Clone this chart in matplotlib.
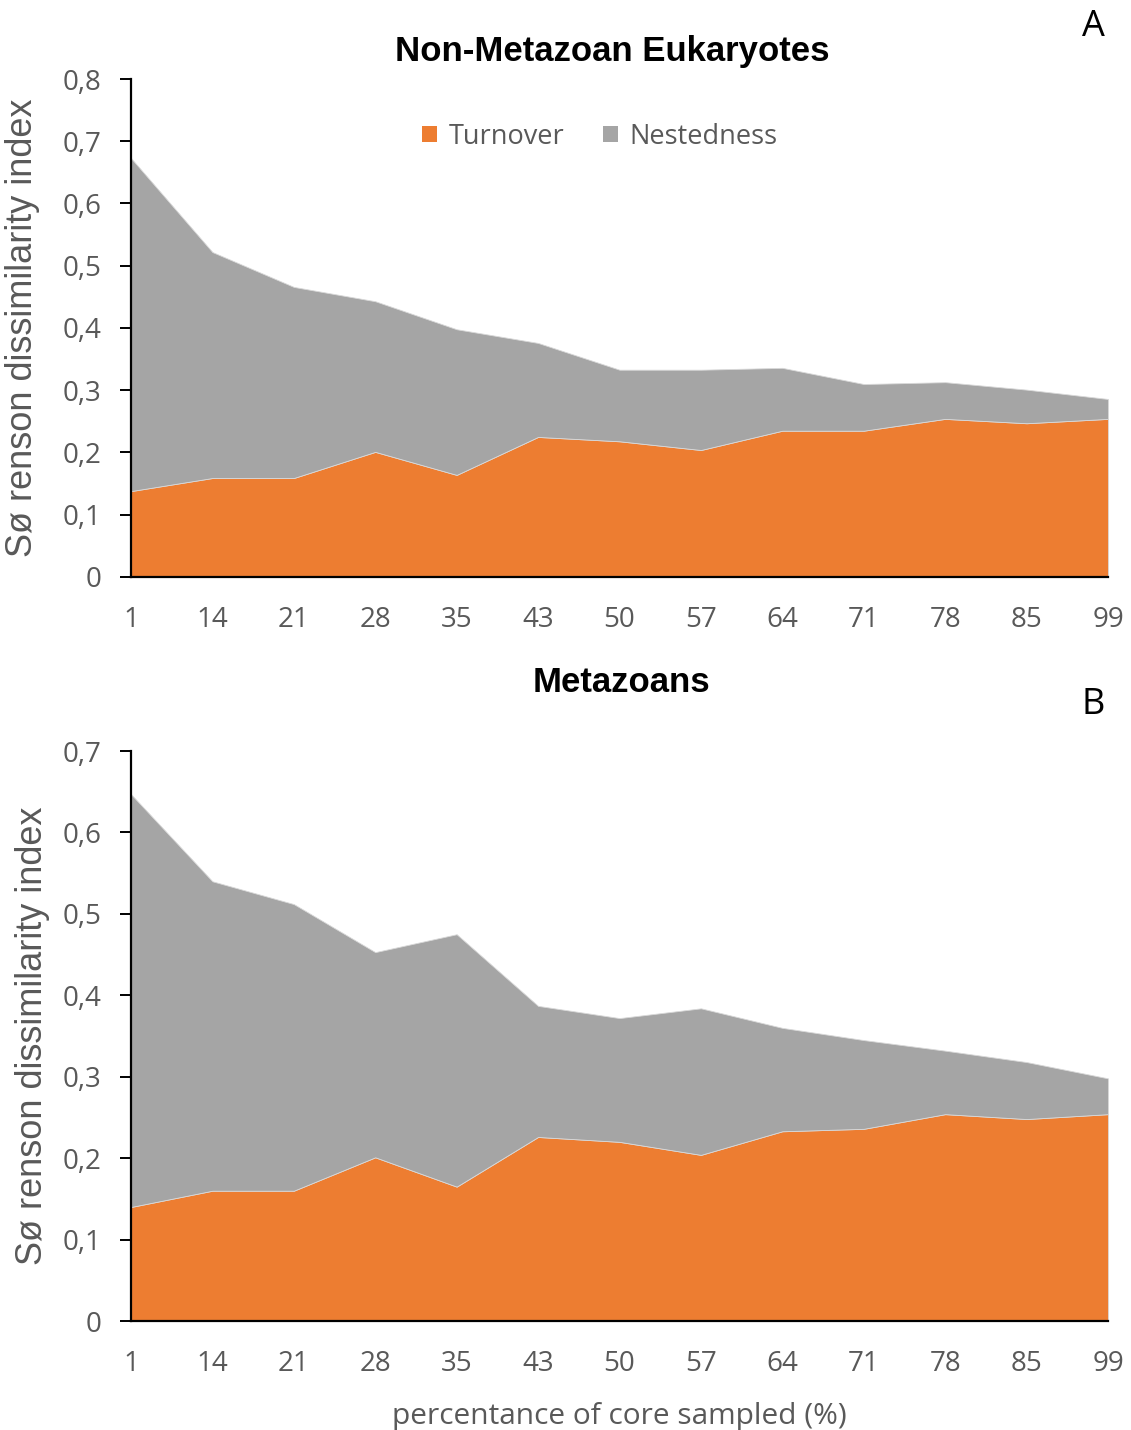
import numpy as np
import matplotlib
matplotlib.use("Agg")
import matplotlib.pyplot as plt
from matplotlib.patches import Patch
from matplotlib.ticker import FuncFormatter, MultipleLocator

# Sampling depth categories (% of core sampled)
categories = ["1", "14", "21", "28", "35", "43", "50", "57", "64", "71", "78", "85", "99"]

# Panel A: non-metazoan eukaryotes
turnover_a = [0.138, 0.159, 0.159, 0.201, 0.164, 0.225, 0.218, 0.204, 0.235, 0.235, 0.254, 0.247, 0.254]
total_a = [0.673, 0.522, 0.466, 0.443, 0.398, 0.376, 0.333, 0.333, 0.336, 0.310, 0.313, 0.301, 0.286]
nestedness_a = [t - u for t, u in zip(total_a, turnover_a)]

# Panel B: metazoans
turnover_b = [0.140, 0.160, 0.160, 0.201, 0.165, 0.226, 0.220, 0.204, 0.233, 0.236, 0.254, 0.248, 0.254]
total_b = [0.647, 0.540, 0.512, 0.453, 0.475, 0.387, 0.372, 0.384, 0.360, 0.345, 0.332, 0.318, 0.298]
nestedness_b = [t - u for t, u in zip(total_b, turnover_b)]

ORANGE = "#ED7D31"
GREY = "#A5A5A5"
TXT = "#595959"
TICKFONT = "Open Sans"
LABELFONT = "Liberation Sans"

W, H = 1131, 1430
fig = plt.figure(figsize=(W / 100, H / 100), dpi=100)


def px_axes(left, top, right, bottom):
    return fig.add_axes([left / W, 1 - bottom / H, (right - left) / W, (bottom - top) / H])


def comma_fmt(v, pos):
    if abs(v) < 1e-9:
        return "0"
    return f"{v:.1f}".replace(".", ",")


def draw_panel(ax, turnover, nestedness, ymax):
    x = np.arange(len(categories))
    ax.stackplot(x, turnover, nestedness, colors=[ORANGE, GREY],
                 edgecolor="#D9D9D9", linewidth=0.6)
    ax.set_xlim(0, len(categories) - 1)
    ax.set_ylim(0, ymax)
    ax.set_xticks(x)
    ax.set_xticklabels(categories)
    ax.yaxis.set_major_locator(MultipleLocator(0.1))
    ax.yaxis.set_major_formatter(FuncFormatter(comma_fmt))
    for s in ("top", "right"):
        ax.spines[s].set_visible(False)
    for s in ("left", "bottom"):
        ax.spines[s].set_color("black")
        ax.spines[s].set_linewidth(1.6)
        ax.spines[s].set_zorder(5)
    ax.tick_params(axis="x", length=0, pad=21, labelsize=20, labelcolor=TXT)
    ax.tick_params(axis="y", length=8, width=1.4, pad=13, labelsize=20,
                   labelcolor=TXT, color="black", direction="out")
    for lab in ax.get_xticklabels() + ax.get_yticklabels():
        lab.set_fontfamily(TICKFONT)
    ax.set_ylabel("Sø renson dissimilarity index", fontsize=26, color=TXT,
                  fontfamily=LABELFONT)


# Top panel
ax1 = px_axes(131, 79, 1108, 577)
draw_panel(ax1, turnover_a, nestedness_a, 0.8)
ax1.yaxis.set_label_coords(-91 / 977, 0.5)
handles = [Patch(facecolor=ORANGE, edgecolor="none", label="Turnover"),
           Patch(facecolor=GREY, edgecolor="none", label="Nestedness")]
leg = ax1.legend(handles=handles, loc="center", bbox_to_anchor=(0.48, 0.884), ncol=2,
                 frameon=False, handlelength=0.55, handleheight=0.55,
                 handletextpad=0.45, columnspacing=1.4,
                 prop={"family": TICKFONT, "size": 19.5})
for t in leg.get_texts():
    t.set_color(TXT)

fig.text(612 / W, 1 - 51 / H, "Non-Metazoan Eukaryotes", ha="center", va="center",
         fontsize=25, fontweight="bold", fontfamily=LABELFONT, color="black")
fig.text(1093 / W, 1 - 27 / H, "A", ha="center", va="center", fontsize=26,
         fontfamily=TICKFONT, color="black")

# Bottom panel
ax2 = px_axes(131, 751, 1108, 1321)
draw_panel(ax2, turnover_b, nestedness_b, 0.7)
ax2.yaxis.set_label_coords(-81 / 977, 0.5)
ax2.set_xlabel("percentance of core sampled (%)", fontsize=21.5, color=TXT,
               fontfamily=TICKFONT, labelpad=17)

fig.text(621 / W, 1 - 682 / H, "Metazoans", ha="center", va="center",
         fontsize=25, fontweight="bold", fontfamily=LABELFONT, color="black")
fig.text(1093 / W, 1 - 705 / H, "B", ha="center", va="center", fontsize=26,
         fontfamily=TICKFONT, color="black")

fig.savefig("out.png", dpi=100, facecolor="white")
